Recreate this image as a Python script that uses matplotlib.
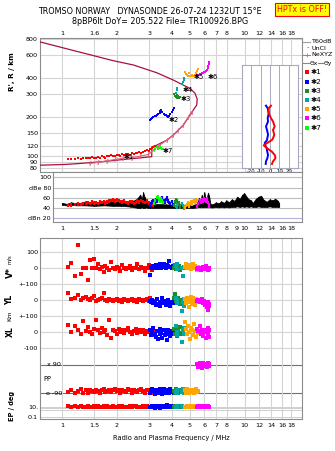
import numpy as np
import matplotlib
matplotlib.use("Agg")
import matplotlib.pyplot as plt
from matplotlib.ticker import FixedLocator, FixedFormatter, NullLocator

plt.rcParams['font.family'] = ['DejaVu Sans']

W, H = 335, 451

# ---- axis ticks -------------------------------------------------------
freq_top = [1, 1.5, 2, 3, 4, 5, 6, 7, 8, 10, 12, 14, 16, 18]
freq_top_lbl = ['1', '1.6', '2', '3', '4', '5', '6', '7', '8', '10', '12', '14', '16', '18']
freq_mid = [1, 1.5, 2, 3, 4, 5, 6, 7, 8, 9, 10, 12, 14, 16, 18]
freq_mid_lbl = ['1', '1.5', '2', '3', '4', '5', '6', '7', '8', '9', '10', '12', '14', '16', '18']
freq_bot = [1, 1.5, 2, 3, 4, 5, 6, 7, 8, 10, 12, 14, 16, 18]
freq_bot_lbl = ['1', '1.5', '2', '3', '4', '5', '6', '7', '8', '10', '12', '14', '16', '18']
height_ticks = [80, 90, 100, 120, 150, 200, 300, 400, 600, 800]
dbe_ticks = [20, 40, 60, 80, 100]
dbe_lbl = ['dBn 20', '40', '60', 'dBe 80', '100']

# ---- true height profile (maroon) and NeXYZ (pink) ---------------------
prof_f = [0.76, 1.04, 1.25, 1.61, 1.99, 2.46, 3.03, 3.10, 3.10, 3.30, 3.74, 4.07,
          4.33, 4.61, 5.02, 5.23, 5.46, 5.50, 5.35, 5.02, 4.61, 4.07, 3.30, 2.46,
          1.91, 0.76]
prof_h = [84.7, 85.8, 87.3, 89.8, 92.6, 95.4, 98.2, 98.5, 117, 121, 132, 145,
          158, 173, 207, 226, 247, 274, 305, 333, 353, 386, 440, 505,
          545, 761]
nexyz_f = [1.42, 1.58, 1.76, 1.95, 2.17, 2.41, 2.67, 2.97, 3.19, 3.37, 3.74, 4.07,
           4.33, 4.61, 4.92, 5.12]
nexyz_h = [87.3, 89.0, 91.5, 93.8, 96.0, 97.0, 99.5, 102.5, 112, 119, 132, 145,
           158, 173, 200, 219]

# ---- echo groups --------------------------------------------------------
red_f = [1.08, 1.12, 1.18, 1.22, 1.27, 1.31, 1.35, 1.38, 1.42, 1.46,
         1.50, 1.53, 1.57, 1.61, 1.65, 1.69, 1.73, 1.77, 1.82, 1.86,
         1.90, 1.95, 2.00, 2.04, 2.09, 2.14, 2.19, 2.24, 2.30, 2.35,
         2.41, 2.47, 2.53, 2.59, 2.65, 2.71, 2.78, 2.85, 2.92, 2.98,
         3.04, 3.10, 3.16, 3.22]
red_h = [94, 95, 95, 96, 95, 96, 97, 96, 97, 98,
         97, 96, 98, 97, 99, 98, 97, 100, 99, 101,
         100, 99, 102, 101, 100, 103, 102, 104, 103, 102,
         105, 104, 106, 105, 107, 106, 108, 109, 111, 110,
         112, 115, 117, 119]
red_v = [10, 35, -50, 145, -35, 5, 0, -70, 50, 0,
         60, 5, 30, -5, 10, -20, 15, 0, -10, 40,
         5, -5, 10, 0, -15, 20, 5, -5, 0, 15,
         -10, 5, 0, 25, -5, 10, 0, -15, 5, 20,
         0, -10, 5, 0]
red_yl = [45, 5, 10, 30, 0, 15, 20, 5, 0, 10,
          25, -5, 0, 5, 10, 45, 0, -5, 5, 0,
          -5, 0, 5, -5, 0, -10, 5, 0, -5, 0,
          5, -5, 0, -10, 5, 0, -5, 0, 5, -5,
          10, 0, -10, -5]
red_xl = [45, 0, 35, 10, -10, 70, 5, 30, 0, -15,
          20, 75, 10, -5, 25, 0, 15, -20, 75, -40,
          10, 5, -10, 20, 0, 15, -5, 10, 25, 0,
          -10, 5, 20, -5, 10, 0, 15, -10, 5, 0,
          10, -5, -20, 5]
red_pp = [-80, -70, -88, -75, -65, -85, -72, -90, -68, -78,
          -82, -66, -74, -88, -70, -62, -80, -76, -68, -84,
          -72, -64, -78, -70, -86, -66, -74, -80, -62, -72,
          -88, -68, -76, -82, -70, -64, -78, -86, -72, -68,
          -80, -90, -74, -84]
red_ep = [12, 8, 15, 10, 20, 9, 11, 14, 7, 10,
          13, 9, 16, 11, 8, 12, 10, 18, 9, 11,
          14, 8, 10, 12, 9, 15, 11, 7, 10, 13,
          9, 12, 16, 10, 8, 11, 14, 9, 12, 10,
          8, 13, 11, 9]
red_amp = [48, 49, 50, 51, 50, 52, 53, 54, 52, 55,
           53, 54, 52, 55, 54, 56, 53, 55, 57, 58,
           59, 57, 60, 58, 56, 55, 57, 54, 53, 56,
           55, 52, 54, 57, 55, 58, 56, 54, 57, 53,
           51, 50, 49, 52]

blue_f = [3.02, 3.06, 3.12, 3.16, 3.22, 3.27, 3.32, 3.37, 3.42, 3.46,
          3.50, 3.55, 3.60, 3.65, 3.70, 3.75, 3.80, 3.86, 3.92, 3.98, 4.04, 4.10]
blue_h = [190, 193, 196, 199, 202, 205, 208, 211, 216, 224,
          228, 220, 212, 208, 206, 204, 200, 205, 212, 220, 228, 236]
blue_v = [-40, 10, 5, 15, 0, 20, 10, 5, 25, 10,
          0, 15, 30, 10, 5, 20, 15, 45, 10, 5, 15, 10]
blue_yl = [-5, -15, 0, -20, -10, -30, 5, -25, -10, -40,
           -15, 10, -20, -5, -30, -15, 0, -25, -35, -10, -20, -5]
blue_xl = [10, -20, 0, 25, -10, -30, 5, -45, -15, 20,
           -5, -35, 10, -20, 0, -50, 15, -10, -25, 5, -15, 0]
blue_pp = [-85, -70, -60, -78, -92, -66, -74, -88, -62, -80,
           -70, -95, -64, -76, -86, -68, -72, -90, -60, -82, -74, -88]
blue_ep = [10, 6, 14, 9, 4, 12, 20, 8, 11, 5,
           15, 9, 7, 13, 10, 25, 8, 12, 6, 10, 14, 9]
blue_amp = [48, 52, 55, 58, 54, 60, 57, 62, 59, 56,
            61, 64, 58, 55, 60, 63, 57, 54, 52, 56, 50, 48]

dg_f = [4.12, 4.16, 4.20, 4.24, 4.28, 4.32, 4.36, 4.40, 4.44]
dg_h = [300, 292, 286, 296, 282, 290, 280, 288, 284]
dg_v = [5, 20, -5, 30, 10, 0, 15, -10, 5]
dg_yl = [10, 35, -5, -20, 5, 15, -10, 0, -25]
dg_xl = [20, -10, 40, 0, -25, 10, -5, 30, -15]
dg_pp = [-75, -85, -65, -80, -70, -90, -68, -78, -72]
dg_ep = [10, 14, 8, 12, 9, 16, 11, 7, 13]
dg_amp = [48, 55, 60, 52, 58, 50, 54, 47, 45]

teal_f = [4.20, 4.24, 4.27, 4.55, 4.60, 4.64, 4.68]
teal_h = [308, 322, 338, 362, 375, 388, 400]
teal_v = [15, -5, 30, 0, -45, 10, 5]
teal_yl = [10, -20, 0, -70, -10, 5, -35]
teal_xl = [40, 0, -20, -65, 10, -10, 25]
teal_pp = [-80, -70, -88, -75, -65, -85, -72]
teal_ep = [9, 12, 8, 14, 10, 11, 7]
teal_amp = [46, 50, 44, 52, 48, 45, 42]

or_f = [4.72, 4.78, 4.84, 4.90, 4.96, 5.02, 5.08, 5.14, 5.20, 5.28, 5.35, 5.42, 5.48, 5.55]
or_h = [446, 432, 424, 418, 440, 415, 412, 420, 414, 416, 422, 436, 452, 474]
or_v = [10, 25, 0, 15, 5, 20, -5, 10, 30, 0, 15, 5, -10, 10]
or_yl = [5, -20, 15, -10, -45, 0, 20, -25, 10, -5, -30, 5, -15, 0]
or_xl = [60, 20, -10, 40, 0, -45, 25, 10, -20, 50, 5, -30, 15, -5]
or_pp = [-70, -85, -62, -78, -90, -66, -74, -82, -68, -88, -72, -60, -80, -76]
or_ep = [10, 8, 12, 9, 14, 11, 7, 10, 13, 9, 11, 8, 12, 10]
or_amp = [44, 48, 50, 53, 47, 52, 55, 50, 56, 58, 54, 60, 57, 52]

mg_f = [5.50, 5.58, 5.66, 5.74, 5.82, 5.90, 5.98, 6.06, 6.14, 6.20, 6.26, 6.32, 6.36, 6.40]
mg_h = [422, 426, 430, 433, 436, 438, 442, 446, 452, 462, 478, 495, 515, 535]
mg_v = [-5, 5, 0, -10, 5, 10, 0, -5, 15, 0, -10, 5, -5, 0]
mg_yl = [-5, 0, -15, -10, 5, -20, -5, -30, -10, -45, -15, -60, -25, -40]
mg_xl = [20, 5, 35, -10, 10, -25, 15, 0, -40, 5, 25, -15, 10, -30]
mg_pp = [95, 80, 100, 88, 72, 105, 92, 84, 98, 76, 90, 102, 86, 94]
mg_ep = [10, 12, 8, 11, 14, 9, 10, 13, 7, 11, 9, 12, 10, 8]
mg_amp = [46, 52, 58, 55, 60, 57, 62, 59, 56, 61, 58, 54, 50, 47]

g7_f = [3.18, 3.24, 3.30, 3.35, 3.40, 3.44, 3.48, 3.52, 3.56]
g7_h = [111, 114, 117, 113, 116, 119, 115, 112, 114]
g7_amp = [52, 58, 64, 66, 60, 56, 62, 58, 54]

# echo labels in the height panel
lbl_text = ['✱1', '✱2', '✱3', '✱4', '✱5', '✱6', '✱7']
lbl_f = [2.17, 3.82, 4.45, 4.55, 5.25, 6.25, 3.56]
lbl_h = [98, 191, 276, 322, 405, 405, 110]

# ---- receiver amplitude trace -------------------------------------------
black_f = [1.00, 1.06, 1.12, 1.20, 1.35, 1.50, 1.70, 1.90, 2.10, 2.30,
           2.50, 2.60, 2.68, 2.74, 2.78, 2.83, 2.88, 2.95, 3.05, 3.30,
           3.70, 4.10, 4.50, 4.80, 5.20, 5.50, 5.62, 5.72, 5.82, 5.92,
           6.02, 6.12, 6.22, 6.30, 6.38, 6.50, 6.70, 6.95, 7.20, 7.45,
           7.70, 7.95, 8.20, 8.50, 8.80, 9.10, 9.40, 9.70, 9.95, 10.2,
           10.5, 10.8, 11.1, 11.5, 11.9, 12.3, 12.7, 13.2, 13.7, 14.2,
           14.7, 15.2, 15.4]
black_hi = [50, 48, 51, 49, 52, 51, 53, 52, 54, 53,
            55, 60, 66, 58, 71, 62, 55, 52, 50, 48,
            47, 46, 45, 44, 46, 48, 60, 52, 66, 58,
            71, 56, 62, 70, 64, 48, 47, 51, 49, 53,
            50, 55, 51, 57, 54, 62, 58, 66, 69, 63,
            57, 55, 50, 58, 62, 64, 56, 52, 57, 55,
            58, 54, 50]
black_lo = [46, 45, 46, 45, 45, 44, 45, 44, 44, 43,
            41, 40, 40, 41, 40, 40, 41, 40, 40, 40,
            40, 40, 40, 40, 40, 41, 42, 41, 42, 41,
            42, 41, 42, 41, 42, 41, 41, 42, 41, 42,
            41, 42, 41, 42, 42, 43, 42, 43, 42, 43,
            42, 43, 42, 42, 43, 42, 42, 42, 43, 42,
            42, 42, 42]

# ---- tilt inset ----------------------------------------------------------
tilt_h = [244, 233, 213, 195, 184, 178, 168, 158, 145, 136, 132, 125, 120, 117,
          114, 107, 101, 98, 95, 90, 86]
tilt_x = [1.1, -1.4, -1.4, 1.1, 3.2, 3.9, 5.0, 3.2, 4.6, 3.2, 2.1, -3.2, -6.8, -5.0,
          -3.2, 2.1, 5.0, 5.7, 5.7, 3.2, 2.1]
tilt_y = [-4.3, -2.5, -1.4, -2.5, -2.1, -2.9, -4.3, -3.2, -2.1, -2.9, -3.2, -5.7, -5.0,
          -4.3, -3.6, -2.9, -2.1, -2.5, -2.9, -4.3, -4.6]

RED, BLUE, DGREEN, TEAL = '#ff0000', '#0000ff', '#228b22', '#00a8a8'
ORANGE, MAGENTA, LGREEN = '#ffa500', '#ff00ff', '#00ff00'
MAROON, PINK = '#a8103c', '#e0607c'
FRAME, GRID = '#8c8c8c', '#d4d4d4'

groups = [
    (RED, red_f, red_h, red_v, red_yl, red_xl, red_pp, red_ep, red_amp),
    (BLUE, blue_f, blue_h, blue_v, blue_yl, blue_xl, blue_pp, blue_ep, blue_amp),
    (DGREEN, dg_f, dg_h, dg_v, dg_yl, dg_xl, dg_pp, dg_ep, dg_amp),
    (TEAL, teal_f, teal_h, teal_v, teal_yl, teal_xl, teal_pp, teal_ep, teal_amp),
    (ORANGE, or_f, or_h, or_v, or_yl, or_xl, or_pp, or_ep, or_amp),
    (MAGENTA, mg_f, mg_h, mg_v, mg_yl, mg_xl, mg_pp, mg_ep, mg_amp),
]
legend_colors = [RED, BLUE, DGREEN, TEAL, ORANGE, MAGENTA, LGREEN]


def box(x0, y0, x1, y1):
    # pixel box -> figure fraction
    return [x0 / W, 1 - y1 / H, (x1 - x0) / W, (y1 - y0) / H]


def style(ax):
    for s in ax.spines.values():
        s.set_color(FRAME)
        s.set_linewidth(0.8)
    ax.tick_params(length=0, labelsize=4.6, pad=1.5, colors='black')


fig = plt.figure(figsize=(W / 100, H / 100), dpi=100)
fig.patch.set_facecolor('white')

XLIM = (0.758, 20.6)

# ---------------- main height panel ----------------
ax = fig.add_axes(box(40, 38, 302, 172))
ax.set_xscale('log')
ax.set_yscale('log')
ax.set_xlim(*XLIM)
ax.set_ylim(75, 817)
ax.xaxis.set_major_locator(FixedLocator(freq_top))
ax.xaxis.set_major_formatter(FixedFormatter(freq_top_lbl))
ax.xaxis.set_minor_locator(NullLocator())
ax.xaxis.tick_top()
ax.yaxis.set_major_locator(FixedLocator(height_ticks))
ax.yaxis.set_major_formatter(FixedFormatter([str(t) for t in height_ticks]))
ax.yaxis.set_minor_locator(NullLocator())
ax.grid(True, color=GRID, lw=0.8)
ax.set_axisbelow(True)
style(ax)

ax.plot(prof_f, prof_h, color=MAROON, lw=0.9, zorder=3)
ax.plot(nexyz_f, nexyz_h, color=PINK, lw=0.8, marker='$I$', ms=3.2, mew=0.3, zorder=3)
for c, f, h, *_ in groups:
    ax.plot(f, h, 's', color=c, ms=1.9, mew=0, zorder=4)
ax.plot(g7_f, g7_h, 's', color=LGREEN, ms=1.9, mew=0, zorder=4)
for t, f, h in zip(lbl_text, lbl_f, lbl_h):
    ax.text(f, h, t, fontsize=5, ha='left', va='center', color='black', zorder=5)

# tilt inset
axi = fig.add_axes(box(242, 65, 298, 168))
axi.set_yscale('log')
axi.set_ylim(80, 505)
axi.set_xlim(-30, 30)
axi.set_xticks([-20, -10, 0, 10, 20])
axi.set_xticklabels(['-20', '-10', '0', '10', '20'])
axi.yaxis.set_major_locator(NullLocator())
axi.yaxis.set_minor_locator(NullLocator())
axi.grid(True, axis='x', color='#a8a8c0', lw=0.7)
for s in axi.spines.values():
    s.set_color('#a8a8c0')
axi.tick_params(length=0, labelsize=3.8, pad=1)
axi.set_xlabel('Tilt / deg', fontsize=3.8, labelpad=0)
axi.plot(tilt_y, tilt_h, color=BLUE, lw=1.4)
axi.plot(tilt_x, tilt_h, color=RED, lw=1.4)

# ---------------- amplitude panel ----------------
axa = fig.add_axes(box(53, 172, 302, 222))
axa.set_xscale('log')
axa.set_xlim(0.893, XLIM[1])
axa.set_ylim(12.4, 110.4)
axa.xaxis.set_major_locator(FixedLocator(freq_mid))
axa.xaxis.set_major_formatter(FixedFormatter(freq_mid_lbl))
axa.xaxis.set_minor_locator(NullLocator())
axa.set_yticks(dbe_ticks)
axa.set_yticklabels(dbe_lbl)
style(axa)
axa.tick_params(axis='x', pad=3)
for t in dbe_ticks:
    axa.axhline(t, color='#b4b4e0' if t == 20 else '#bcbcbc', lw=0.8, zorder=0)
axa.fill_between(black_f, black_lo, black_hi, color='black', lw=0.5, zorder=2)
axa.vlines(black_f, black_lo, black_hi, color='black', lw=0.8, zorder=2)
for c, f, h, v, yl, xl, pp, ep, amp in groups:
    axa.vlines(f, np.array(amp) - 7, amp, color=c, lw=1.6, zorder=3)
axa.vlines(g7_f, np.array(g7_amp) - 7, g7_amp, color=LGREEN, lw=1.6, zorder=3)

# ---------------- drift / polarization panel ----------------
V0, YL0, XL0, VS = 150.7, 119.0, 87.0, 0.16
PP0, PPS = 39.85, 28.3 / 180
EP0, EPS = 9.0, 3.3

axl = fig.add_axes(box(40, 238, 302, 419))
axl.set_xscale('log')
axl.set_xlim(*XLIM)
axl.set_ylim(0, 181)
axl.xaxis.set_major_locator(FixedLocator(freq_bot))
axl.xaxis.set_major_formatter(FixedFormatter(freq_bot_lbl))
axl.xaxis.set_minor_locator(NullLocator())
axl.grid(True, axis='x', color=GRID, lw=0.8)
lower_ticks = [V0 + 100 * VS, V0, V0 - 100 * VS, YL0, YL0 - 100 * VS, XL0, XL0 - 100 * VS,
               EP0 + EPS, EP0 - 2 * EPS]
lower_lbl = ['100', '0', '+-100', '0', '+-100', '0', '-100', '10.', '0.1']
axl.set_yticks(lower_ticks)
axl.set_yticklabels(lower_lbl)
style(axl)
axl.tick_params(axis='x', pad=3)
for t in lower_ticks[:7]:
    axl.axhline(t, color=GRID, lw=0.8, zorder=0)
axl.axhline(PP0 + 90 * PPS, color='#707070', lw=0.8, zorder=0)
axl.axhline(PP0 - 90 * PPS, color='#707070', lw=0.8, zorder=0)
for t in [EP0 + EPS, EP0 + 0.5 * EPS, EP0, EP0 - 2 * EPS]:
    axl.axhline(t, color='#c8c8c8', lw=0.6, zorder=0)

for c, f, h, v, yl, xl, pp, ep, amp in groups:
    kw = dict(ls='none', marker='s', color=c, ms=2.2, mew=0, zorder=3)
    axl.plot(f, V0 + VS * np.array(v), **kw)
    axl.plot(f, YL0 + VS * np.array(yl), **kw)
    axl.plot(f, XL0 + VS * np.array(xl), **kw)
    axl.plot(f, PP0 + PPS * np.array(pp), **kw)
    axl.plot(f, EP0 + EPS * np.log10(ep), **kw)

axl.text(0.055, PP0 + 90 * PPS, 'x 90', transform=axl.get_yaxis_transform(),
         fontsize=4.6, ha='center', va='center')
axl.text(0.055, PP0 - 90 * PPS, 'o -90', transform=axl.get_yaxis_transform(),
         fontsize=4.6, ha='center', va='center')
axl.text(0.012, PP0, 'PP', transform=axl.get_yaxis_transform(),
         fontsize=4.8, ha='left', va='center')
axl.set_xlabel('Radio and Plasma Frequency / MHz', fontsize=4.8, labelpad=5)

# ---------------- figure texts ----------------
def ftext(x, y, s, **kw):
    fig.text(x / W, 1 - y / H, s, **kw)


ftext(150, 12, 'TROMSO NORWAY   DYNASONDE 26-07-24 1232UT 15°E', fontsize=5.8,
      ha='center', va='center')
ftext(160, 21, '8pBP6It DoY= 205.522 File= TR100926.BPG', fontsize=5.8,
      ha='center', va='center')
ftext(302, 9.5, 'HPTx is OFF!', fontsize=5.8, ha='center', va='center', color='red',
      bbox=dict(boxstyle='square,pad=0.25', fc='#ffff00', ec='red', lw=0.8))

ftext(12, 72, "R', R / km", fontsize=5.2, rotation=90, ha='center', va='center',
      fontweight='bold')
ftext(10, 273, 'V*', fontsize=6, rotation=90, ha='center', va='center', fontweight='bold')
ftext(10, 259, 'm/s', fontsize=3.8, rotation=90, ha='center', va='center')
ftext(10, 300, 'YL', fontsize=5.5, rotation=90, ha='center', va='center', fontweight='bold')
ftext(10, 316, 'Km', fontsize=4.6, rotation=90, ha='center', va='center')
ftext(10, 332, 'XL', fontsize=5.5, rotation=90, ha='center', va='center', fontweight='bold')
ftext(12, 406, 'EP / deg', fontsize=4.8, rotation=90, ha='center', va='center',
      fontweight='bold')

# legend on the right
fig.add_artist(plt.Line2D([303 / W, 310 / W], [1 - 41.7 / H] * 2, color='#a0a0a0', lw=0.8))
ftext(311, 41.7, 'T60dB', fontsize=4.6, va='center')
ftext(307, 48.3, '·', fontsize=5, va='center', ha='center')
ftext(311, 48.3, 'UnCl', fontsize=4.6, va='center')
fig.add_artist(plt.Line2D([303 / W, 310 / W], [1 - 55 / H] * 2, color=PINK, lw=0.8))
fig.add_artist(plt.Line2D([306.5 / W], [1 - 55 / H], color=PINK, marker='+', ms=3, mew=0.6))
ftext(311, 55, 'NeXYZ', fontsize=4.6, va='center')
fig.add_artist(plt.Line2D([303 / W, 309 / W], [1 - 63.3 / H] * 2, color=PINK, lw=0.8))
ftext(309.5, 63.3, 'Θx', fontsize=4.3, va='center')
fig.add_artist(plt.Line2D([318 / W, 323 / W], [1 - 63.3 / H] * 2, color='#7070ff', lw=0.8))
ftext(323.5, 63.3, 'Θy', fontsize=4.3, va='center')
for i, c in enumerate(legend_colors):
    yy = 72.3 + i * 9.2
    fig.add_artist(plt.Line2D([306.7 / W], [1 - yy / H], color=c, marker='s', ms=2.6, mew=0))
    ftext(311, yy, lbl_text[i], fontsize=5.3, va='center')

fig.savefig('out.png', dpi=100)
